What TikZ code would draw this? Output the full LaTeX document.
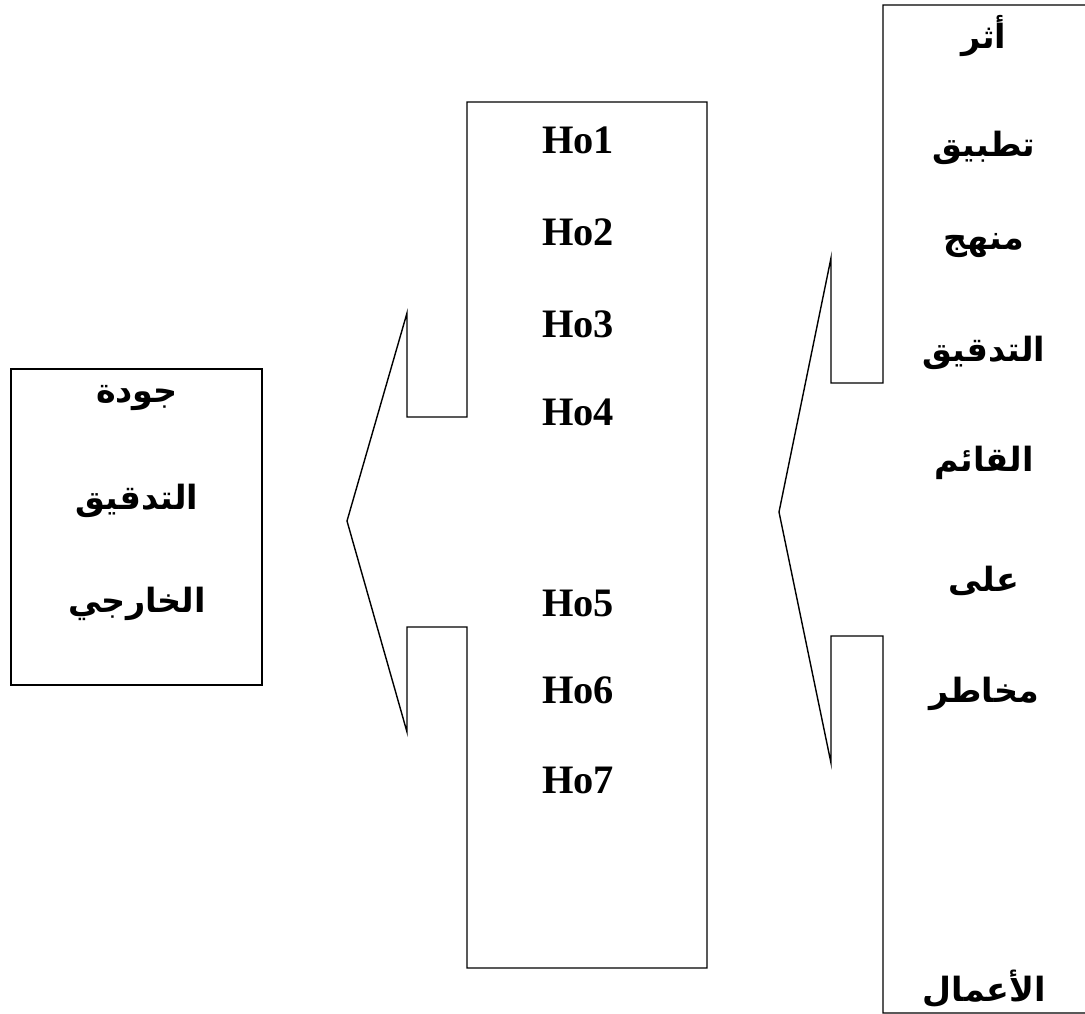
\documentclass[tikz,border=0pt]{standalone}
\usepackage{fontspec}
\setmainfont{Liberation Serif}
\newfontfamily\arabicfont[Script=Arabic]{DejaVu Sans}
\TeXXeTstate=1
\usepackage{tikz}
\usetikzlibrary{positioning}
\newcommand{\ar}[1]{{\arabicfont\bfseries\beginR #1\endR}}

\begin{document}
\begin{tikzpicture}[
  x=0.02cm, y=-0.02cm, line width=0.8pt, line join=miter,
  hyp/.style={font=\fontsize{23}{28}\selectfont\bfseries, inner sep=0pt},
  word/.style={font=\fontsize{19}{24}\selectfont, inner sep=0pt}]
\useasboundingbox (0,0) rectangle (1085,1014);
% right block with its arrow
\draw (1100,5) -- (883,5) -- (883,383) -- (831,383) -- (831,258) -- (779,512)
      -- (831,763) -- (831,636) -- (883,636) -- (883,1013) -- (1100,1013);
% middle block with its arrow
\draw (707,102) -- (467,102) -- (467,417) -- (407,417) -- (407,313) -- (347,521)
      -- (407,732) -- (407,627) -- (467,627) -- (467,968) -- (707,968) -- cycle;
% left block
\draw (11,369) rectangle (262,685);
\foreach \n/\y in {1/140, 2/232, 3/324, 4/412, 5/603, 6/690, 7/780}
  \node[hyp] (ho\n) at (578,\y) {Ho\n};
\node[word] (w1) at (984,36)  {\ar{أثر}};
\node[word] (w2) at (984,148) {\ar{تطبيق}};
\node[word] (w3) at (984,246) {\ar{منهج}};
\node[word] (w4) at (984,353) {\ar{التدقيق}};
\node[word] (w5) at (984,463) {\ar{القائم}};
\node[word] (w6) at (984,581) {\ar{على}};
\node[word] (w7) at (984,694) {\ar{مخاطر}};
\node[word] (w8) at (984,989) {\ar{الأعمال}};
\node[word] (q1) at (137,398) {\ar{جودة}};
\node[word] (q2) at (137,501) {\ar{التدقيق}};
\node[word] (q3) at (137,604) {\ar{الخارجي}};
\end{tikzpicture}
\end{document}
